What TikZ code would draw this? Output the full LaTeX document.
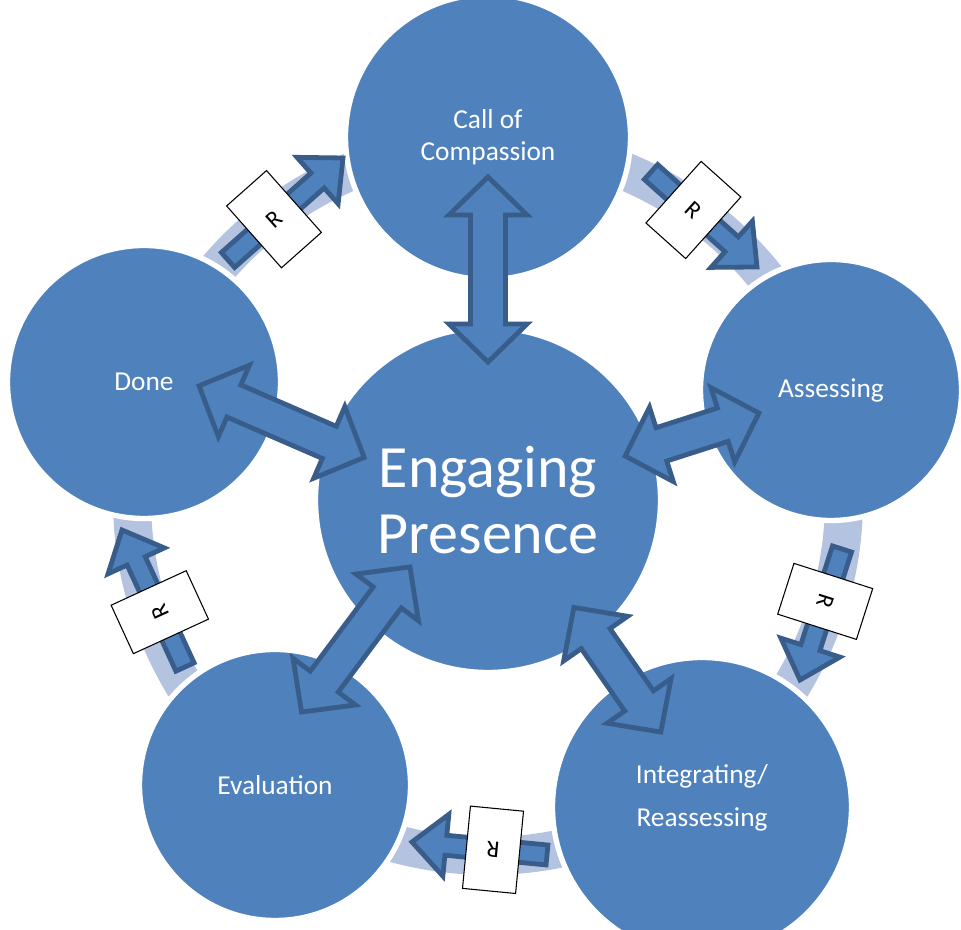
\documentclass[tikz,border=0pt]{standalone}
\usepackage{fontspec}
\setmainfont{Carlito}
\usetikzlibrary{calc}

\definecolor{stagefill}{RGB}{79,129,189}
\definecolor{stageedge}{RGB}{56,93,138}
\definecolor{trackfill}{RGB}{180,196,224}

% two-headed block arrow from #1 to #2
\newcommand{\twoway}[2]{%
  \draw[blockarrow] let \p1=(#1), \p2=(#2), \n1={atan2(\y2-\y1,\x2-\x1)},
      \p3=($(\p1)+(\n1:38)$), \p4=($(\p2)+({\n1+180}:38)$) in
    (\p1) -- ($(\p3)+({\n1+90}:39)$) -- ($(\p3)+({\n1+90}:17.5)$)
    -- ($(\p4)+({\n1+90}:17.5)$) -- ($(\p4)+({\n1+90}:39)$) -- (\p2)
    -- ($(\p4)+({\n1-90}:39)$) -- ($(\p4)+({\n1-90}:17.5)$)
    -- ($(\p3)+({\n1-90}:17.5)$) -- ($(\p3)+({\n1-90}:39)$) -- cycle;}

% one-way block arrow from #1 to #2 with its R tag
\newcommand{\oneway}[2]{%
  \draw[steparrow] let \p1=(#1), \p2=(#2), \n1={atan2(\y2-\y1,\x2-\x1)},
      \p3=($(\p2)+({\n1+180}:34)$) in
    ($(\p1)+({\n1+90}:10)$) -- ($(\p3)+({\n1+90}:10)$) -- ($(\p3)+({\n1+90}:31)$)
    -- (\p2) -- ($(\p3)+({\n1-90}:31)$) -- ($(\p3)+({\n1-90}:10)$)
    -- ($(\p1)+({\n1-90}:10)$) -- cycle
    ($(\p1)!0.4!(\p2)$) node[tag, rotate=\n1] {R};}

\begin{document}
\begin{tikzpicture}[
        x=0.75pt, y=0.75pt,
        stage/.style={circle, fill=stagefill, draw=white, line width=4pt, text=white, align=center, inner sep=0pt, font=\fontsize{20.5}{24}\selectfont},
        blockarrow/.style={draw=stageedge, fill=stagefill, line width=3.6pt},
        steparrow/.style={draw=stageedge, fill=stagefill, line width=3.6pt},
        tag/.style={draw=black, fill=white, line width=0.8pt, text=black, minimum width=40pt, minimum height=62pt, inner sep=0pt, font=\fontsize{18}{20}\selectfont},
        track/.style={draw=trackfill, line width=28.5pt}
    ]
        \path[use as bounding box, fill=white] (0,0) rectangle (961,930);
        \coordinate (hub) at (488,430);

        % pale ring behind the cycle
        \foreach \a/\b in {161.1/90, 90/17.8, 17.8/-55.1, -55.1/-126.8, -126.8/-198.9}
            \draw[track] ($(hub)+(\a:356)$) arc[start angle=\a, end angle=\b, radius=356];

        \node[stage, minimum size=258.75pt, font=\fontsize{45}{50}\selectfont] (eng) at (hub) {Engaging\\Presence};
        \node[stage, minimum size=213.75pt] (call) at (488,793) {Call of\\Compassion};
        \node[stage, minimum size=195.75pt] (assess) at (831,540) {Assessing};
        \node[stage, minimum size=224.25pt, label={[yshift=7pt, text=white, align=center, font=\fontsize{20.5}{24}\selectfont]center:{Integrating/\\[8pt]Reassessing}}] (integ) at (702,123) {};
        \node[stage, minimum size=203.25pt] (eval) at (275,145) {Evaluation};
        \node[stage, minimum size=204.75pt] (done) at (144,548) {Done};

        \twoway{$(call)!0.11!(eng)$}{$(call)!0.62!(eng)$}
        \twoway{$(done)!0.16!(eng)+(0,15)$}{$(done)!0.64!(eng)$}
        \twoway{$(eng)!0.4!(assess)$}{$(eng)!0.79!(assess)$}
        \twoway{$(eng)!0.235!(eval)+(-28,0)$}{$(eng)!0.744!(eval)+(-28,0)$}
        \twoway{$(eng)!0.35!(integ)+(11,0)$}{$(eng)!0.756!(integ)+(11,0)$}

        \oneway{$(done)+(84,122)$}{$(call)+(-145,-21)$}
        \oneway{$(call)+(163,-35)$}{$(assess)+(-74,123)$}
        \oneway{$(assess)+(11,-159)$}{$(integ)+(98,127)$}
        \oneway{$(integ)+(-155,-48)$}{$(eval)+(137,-57)$}
        \oneway{$(eval)+(-90,118)$}{$(done)+(-22,-148)$}
    \end{tikzpicture}
\end{document}
